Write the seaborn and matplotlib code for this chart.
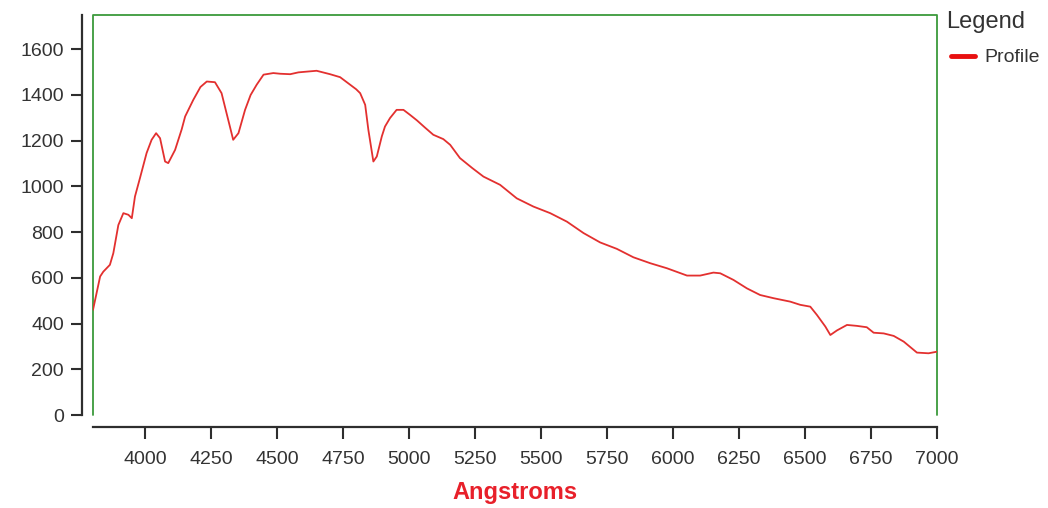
import matplotlib
matplotlib.use("Agg")
import matplotlib.pyplot as plt
from matplotlib.lines import Line2D
import seaborn as sns
import pandas as pd

# ---- data ----
wavelength = [3803, 3830, 3842, 3867, 3880, 3899, 3918, 3937, 3950, 3962, 3981, 4006, 4025, 4042,
              4057, 4076, 4088, 4114, 4139, 4152, 4183, 4210, 4234, 4265, 4290, 4309, 4322, 4334,
              4354, 4379, 4400, 4423, 4449, 4486, 4512, 4550, 4581, 4620, 4650, 4701, 4739, 4777,
              4800, 4815, 4834, 4846, 4865, 4878, 4897, 4909, 4928, 4953, 4979, 5004, 5030, 5060,
              5092, 5130, 5156, 5193, 5240, 5282, 5345, 5408, 5471, 5535, 5598, 5661, 5724, 5787,
              5850, 5914, 5977, 6053, 6103, 6153, 6179, 6229, 6280, 6330, 6381, 6444, 6482, 6520,
              6545, 6577, 6596, 6621, 6659, 6696, 6734, 6760, 6798, 6836, 6874, 6924, 6968, 7000]
profile = [460, 606, 627, 657, 708, 831, 883, 876, 861, 956, 1037, 1146, 1204, 1233,
           1211, 1109, 1102, 1160, 1250, 1306, 1379, 1435, 1459, 1456, 1408, 1320, 1260, 1204,
           1233, 1335, 1400, 1445, 1489, 1496, 1493, 1491, 1499, 1503, 1506, 1491, 1478, 1445,
           1425, 1408, 1357, 1248, 1109, 1131, 1219, 1262, 1299, 1335, 1335, 1313, 1289, 1258,
           1226, 1207, 1182, 1124, 1080, 1043, 1007, 948, 912, 883, 846, 796, 755, 727,
           690, 664, 642, 610, 610, 623, 620, 591, 554, 525, 511, 496, 482, 474,
           438, 387, 350, 370, 394, 390, 384, 360, 357, 346, 321, 273, 270, 277]
series_name = "Profile"
x_ticks = [4000, 4250, 4500, 4750, 5000, 5250, 5500, 5750, 6000, 6250, 6500, 6750, 7000]
y_ticks = [0, 200, 400, 600, 800, 1000, 1200, 1400, 1600]
x_label = "Angstroms"
legend_title = "Legend"

df = pd.DataFrame({"Angstroms": wavelength, "Flux": profile, "series": series_name})

sns.set_theme(style="white")
plt.rcParams["font.family"] = ["Liberation Sans", "DejaVu Sans"]

W, H = 1048, 508
PX = 72 / 100  # points per pixel
fig = plt.figure(figsize=(W / 100, H / 100), dpi=100)
ax = fig.add_axes([93 / W, 1 - 415 / H, (937 - 93) / W, (415 - 15) / H])

sns.lineplot(data=df, x="Angstroms", y="Flux", hue="series", palette=["#e3302f"],
             estimator=None, sort=False, linewidth=1.3, ax=ax, legend=True)

ax.set_xlim(3803, 7000)
ax.set_ylim(0, 1750)
ax.set_xticks(x_ticks)
ax.set_yticks(y_ticks)

spine_col = "#2e2e2e"
for s in ["top", "right"]:
    ax.spines[s].set_visible(False)
ax.spines["left"].set_position(("outward", 11 * PX))
ax.spines["bottom"].set_position(("outward", 12 * PX))
for s in ["left", "bottom"]:
    ax.spines[s].set_color(spine_col)
    ax.spines[s].set_linewidth(1.6)

# green frame: left, top, right
ax.add_line(Line2D([0, 0, 1, 1], [0, 1, 1, 0], transform=ax.transAxes,
                   color="#3c9a3c", linewidth=1.3, clip_on=False, zorder=1))

ax.tick_params(axis="y", which="major", left=True, length=8, width=1.5,
               color=spine_col, labelsize=14, labelcolor="#333333", pad=5)
ax.tick_params(axis="x", which="major", bottom=True, length=8.5, width=1.5,
               color=spine_col, labelsize=14, labelcolor="#333333", pad=9)

ax.set_ylabel("")
ax.set_xlabel(x_label, fontsize=17, fontweight="bold", color="#e8202a", labelpad=9.5)

leg = ax.legend(loc="upper left",
                bbox_to_anchor=(941 / W, 1 - 39 / H), bbox_transform=fig.transFigure,
                frameon=False, fontsize=14, borderpad=0,
                handlelength=1.25, handletextpad=0.5)
for ln in leg.get_lines():
    ln.set_linewidth(3.5)
    ln.set_color("#e81010")
for t in leg.get_texts():
    t.set_color("#333333")
fig.text(946 / W, 1 - 22 / H, legend_title, fontsize=17, color="#333333",
         ha="left", va="center")

fig.savefig("out.png", dpi=100)
